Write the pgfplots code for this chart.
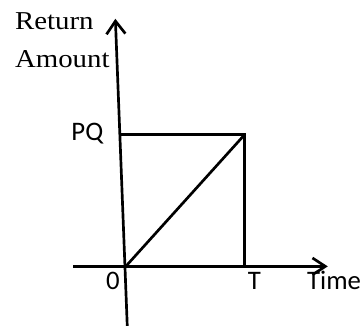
\documentclass[border=0pt]{standalone}
\usepackage{fontspec}
\setmainfont{Liberation Serif}
\newfontfamily\calfont{Carlito}
\usepackage{pgfplots}
\pgfplotsset{compat=1.18}
\usetikzlibrary{arrows.meta}
\begin{document}
\begin{tikzpicture}
\begin{axis}[
  scale only axis, width=361pt, height=329pt,
  xmin=0, xmax=361, ymin=0, ymax=329,
  hide axis, clip=false,
]
% y axis (slightly slanted)
\addplot[black, line width=2.7pt, -{Straight Barb[length=13pt,width=19pt,line width=2.7pt]}] coordinates {(128.5,0) (116.5,310)};
% x axis
\addplot[black, line width=2.7pt, -{Straight Barb[length=13pt,width=17pt,line width=2.7pt]}] coordinates {(74,60) (331,60)};
% rectangle top and right side
\addplot[black, line width=2.7pt] coordinates {(121,193) (247,193) (247,60)};
% diagonal
\addplot[black, line width=2.7pt] coordinates {(127,60) (247,193)};
% labels
\node[anchor=base west, inner sep=0pt] at (axis cs:15,299) {\scalebox{1.12}[1]{\fontsize{26}{30}\selectfont Return}};
\node[anchor=base west, inner sep=0pt] at (axis cs:15,261) {\scalebox{1.12}[1]{\fontsize{26}{30}\selectfont Amount}};
\node[anchor=base west, inner sep=0pt] at (axis cs:72,187) {\calfont\fontsize{27}{30}\selectfont PQ};
\node[anchor=base west, inner sep=0pt] at (axis cs:107,37) {\calfont\fontsize{27}{30}\selectfont 0};
\node[anchor=base west, inner sep=0pt] at (axis cs:250,37) {\calfont\fontsize{27}{30}\selectfont T};
\node[anchor=base west, inner sep=0pt] at (axis cs:310,37) {\calfont\fontsize{27}{30}\selectfont Time};
\end{axis}
\path (current axis.south west) rectangle (current axis.north east);
\end{tikzpicture}
\end{document}
